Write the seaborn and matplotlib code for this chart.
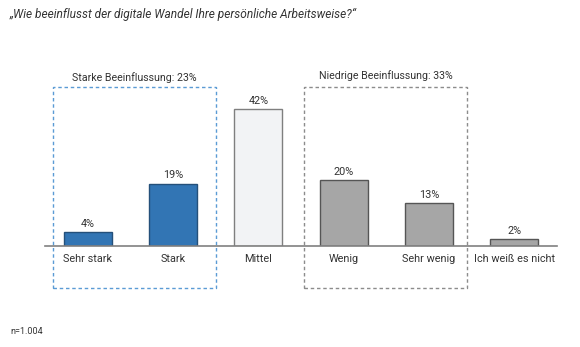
import matplotlib
matplotlib.use("Agg")
import matplotlib.pyplot as plt
import seaborn as sns
import pandas as pd
from matplotlib.patches import Rectangle

categories = ["Sehr stark", "Stark", "Mittel", "Wenig", "Sehr wenig", "Ich weiß es nicht"]
values = [4, 19, 42, 20, 13, 2]
value_labels = ["4%", "19%", "42%", "20%", "13%", "2%"]
fill_colors = ["#3275b4", "#3275b4", "#f2f3f5", "#a6a6a6", "#a6a6a6", "#a6a6a6"]
edge_colors = ["#24507a", "#24507a", "#7f7f7f", "#555555", "#555555", "#555555"]
title = "\u201eWie beeinflusst der digitale Wandel Ihre persönliche Arbeitsweise?\u201c"
group_labels = ["Starke Beeinflussung: 23%", "Niedrige Beeinflussung: 33%"]
note = "n=1.004"

sns.set_theme(style="white")
plt.rcParams["font.family"] = ["Roboto", "DejaVu Sans"]
txt = "#333333"

fig = plt.figure(figsize=(5.8, 3.47), dpi=100)
ax = fig.add_axes([45 / 580, 101.5 / 347, 512 / 580, 195.5 / 347])

df = pd.DataFrame({"cat": categories, "val": values})
sns.barplot(data=df, x="cat", y="val", hue="cat", palette=fill_colors,
            legend=False, width=0.56, ax=ax, saturation=1)
for p, ec in zip(ax.patches, edge_colors):
    p.set_edgecolor(ec)
    p.set_linewidth(1.0)

ax.set_xlim(-0.5, 5.5)
ax.set_ylim(0, 60.15)
for s in ["top", "right", "left"]:
    ax.spines[s].set_visible(False)
ax.spines["bottom"].set_color("#808080")
ax.spines["bottom"].set_linewidth(1.2)
ax.set_yticks([])
ax.set_xlabel("")
ax.set_ylabel("")
ax.tick_params(axis="x", length=0, pad=6, labelsize=7.8, labelcolor=txt)

for i, (v, lab) in enumerate(zip(values, value_labels)):
    ax.text(i, v + 1.0, lab, ha="center", va="bottom", fontsize=7.8, color=txt)

# group boxes
ax.add_patch(Rectangle((-0.41, -13.1), 1.91, 61.9, fill=False, ls=(0, (2.5, 2)),
                       ec="#5b9bd5", lw=1.0, clip_on=False))
ax.add_patch(Rectangle((2.535, -13.1), 1.91, 61.9, fill=False, ls=(0, (2.5, 2)),
                       ec="#8c8c8c", lw=1.0, clip_on=False))
ax.text(0.55, 51.6, group_labels[0], ha="center", va="center", fontsize=7.7, color=txt)
ax.text(3.49, 52.2, group_labels[1], ha="center", va="center", fontsize=7.7, color=txt)

fig.text(10 / 580, 1 - 14 / 347, title, ha="left", va="center", fontsize=8.6,
         style="italic", color=txt)
fig.text(10 / 580, 1 - 332 / 347, note, ha="left", va="center", fontsize=6.5, color=txt)

fig.savefig("out.png", dpi=100)
